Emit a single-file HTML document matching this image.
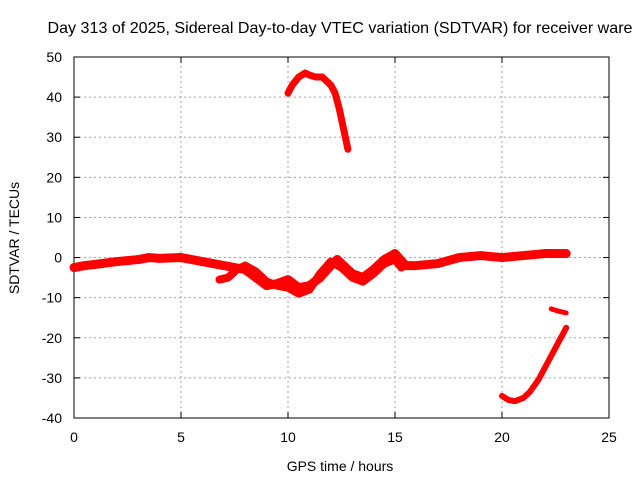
<!DOCTYPE html>
<html><head><meta charset="utf-8"><style>
body{margin:0;background:#fff;}
svg{display:block;font-family:"Liberation Sans",sans-serif;}
</style></head><body>
<svg id="chart" width="640" height="480">
<g id="grid"></g><g id="axes"></g><g id="series"></g>
<text x="340" y="33" text-anchor="middle" font-size="16" textLength="585" lengthAdjust="spacingAndGlyphs">Day 313 of 2025, Sidereal Day-to-day VTEC variation (SDTVAR) for receiver ware</text>
<text x="340" y="471" text-anchor="middle" font-size="14">GPS time / hours</text>
<text transform="translate(19,238) rotate(-90)" text-anchor="middle" font-size="14">SDTVAR / TECUs</text>
</svg>
<script>
const xTicks=[0,5,10,15,20,25];
const yTicks=[-40,-30,-20,-10,0,10,20,30,40,50];
const mainT=[0,0.5,1,2,3,3.5,4,5,5.5,6,6.5,7,7.5,8,8.5,9,9.5,10,10.5,11,11.5,12,12.3,12.6,13,13.5,14,14.5,15,15.5,16,17,18,19,20,21,22,23];
const mainV=[-2.5,-2,-1.7,-1,-0.5,0,-0.2,0,-0.5,-1,-1.5,-2,-2.5,-3,-5,-7,-6.5,-5.5,-7.5,-7,-5,-2,-0.5,-2,-4,-5,-3,-0.5,1,-2,-2,-1.5,0,0.5,0,0.5,1,1];
const band2T=[6.8,7.2,7.6,8,8.5,9,9.5,10,10.5,11,11.5,12,12.5,13,13.5,14,14.5,15,15.3];
const band2V=[-5.5,-5,-3,-2,-3.5,-6,-7,-7.5,-9,-8,-4,-1,-2.5,-5,-6,-4,-1.5,-0.5,-2.5];
const upperT=[10,10.2,10.5,10.8,11,11.3,11.6,12,12.2,12.4,12.6,12.8];
const upperV=[41,43,45,46,45.5,45,45,43,41,37,32,27];
const lowerT=[20,20.3,20.6,21,21.3,21.7,22,22.4,22.7,23];
const lowerV=[-34.5,-35.5,-35.8,-35,-33.5,-30.5,-27.5,-23.5,-20.5,-17.5];
const tailT=[22.3,22.6,23];
const tailV=[-12.8,-13.3,-13.8];
const X0=74,X1=609,Y0=418,Y1=57;
const sx=t=>X0+(t-0)/25*(X1-X0);
const sy=v=>Y0-(v+40)/90*(Y0-Y1);
const NS="http://www.w3.org/2000/svg";
const mk=(tag,attrs,parent)=>{const e=document.createElementNS(NS,tag);for(const k in attrs)e.setAttribute(k,attrs[k]);parent.appendChild(e);return e;};
const grid=document.getElementById('grid'),axes=document.getElementById('axes'),ser=document.getElementById('series');
xTicks.forEach(t=>{
 if(t>0&&t<25){const l=mk('line',{x1:sx(t),x2:sx(t),y1:Y0,y2:Y1,stroke:'#a0a0a0','stroke-dasharray':'2,3'},grid);
 
 }
 const tx=mk('text',{x:sx(t),y:Y0+24,'text-anchor':'middle','font-size':14},axes);tx.textContent=t;
 
 
 mk('line',{x1:sx(t),x2:sx(t),y1:Y0,y2:Y0-6,stroke:'#000'},axes);
 mk('line',{x1:sx(t),x2:sx(t),y1:Y1,y2:Y1+6,stroke:'#000'},axes);
});
yTicks.forEach(v=>{
 if(v>-40&&v<50){const l=mk('line',{x1:X0,x2:X1,y1:sy(v),y2:sy(v),stroke:'#a0a0a0','stroke-dasharray':'2,3'},grid);
 
 }
 const tx=mk('text',{x:X0-12,y:sy(v)+5,'text-anchor':'end','font-size':14},axes);tx.textContent=v;
 
 
 mk('line',{x1:X0,x2:X0+6,y1:sy(v),y2:sy(v),stroke:'#000'},axes);
 mk('line',{x1:X1,x2:X1-6,y1:sy(v),y2:sy(v),stroke:'#000'},axes);
});
const fr=mk('rect',{x:X0,y:Y1,width:X1-X0,height:Y0-Y1,fill:'none',stroke:'#000'},axes);


function line(T,V,w,name){
 const p=mk('polyline',{points:T.map((t,i)=>sx(t)+','+sy(V[i])).join(' '),fill:'none',stroke:'#ff0000','stroke-width':w,'stroke-linejoin':'round','stroke-linecap':'round'},ser);
 
 
}
line(mainT,mainV,9,'sdtvar-main-band');
line(band2T,band2V,8,'sdtvar-secondary-band');
line(upperT,upperV,7,'sdtvar-upper-arc');
line(lowerT,lowerV,6,'sdtvar-lower-arc');
line(tailT,tailV,5,'sdtvar-tail-segment');
</script>
</body></html>
